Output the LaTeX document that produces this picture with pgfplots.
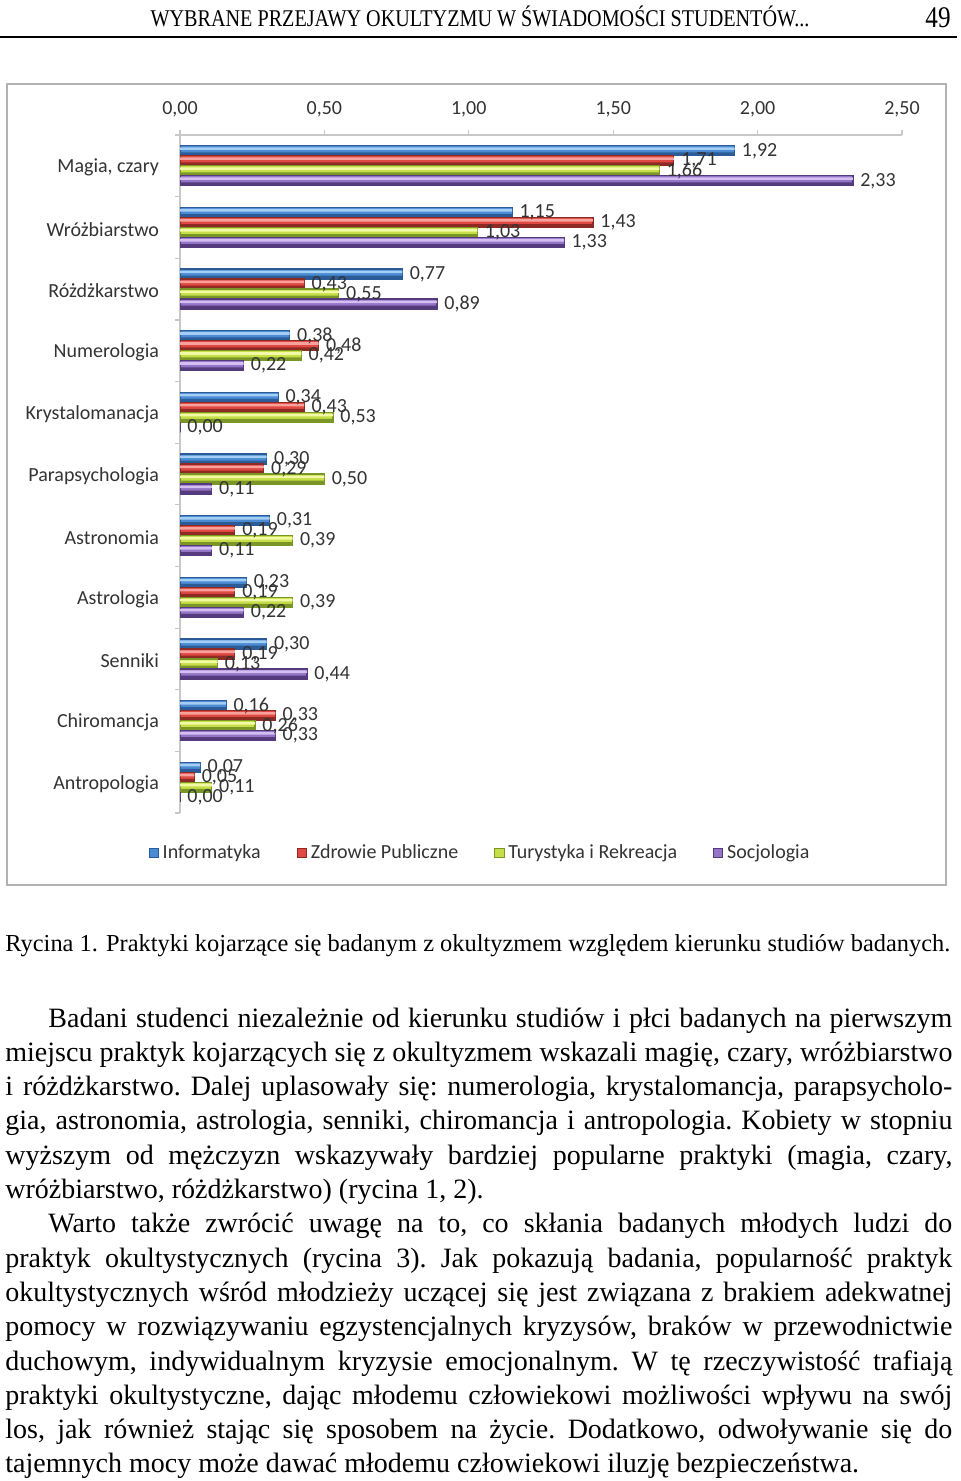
\documentclass[border=0pt]{standalone}
\usepackage{fontspec}
\usepackage{pgfplots}
\usepackage{pgfplotstable}
\pgfplotsset{compat=1.18}
\setmainfont{Liberation Serif}
\newfontfamily\chartfont{Carlito}
\newfontfamily\headfont[FakeStretch=0.84]{Liberation Serif}

\definecolor{bluL}{HTML}{A4CEF4}
\definecolor{bluM}{HTML}{4A8BD4}
\definecolor{bluD}{HTML}{2B5C98}
\definecolor{redL}{HTML}{F7A29D}
\definecolor{redM}{HTML}{E04842}
\definecolor{redD}{HTML}{8E2A24}
\definecolor{grnL}{HTML}{F2FAA8}
\definecolor{grnM}{HTML}{C6DE48}
\definecolor{grnD}{HTML}{7A9626}
\definecolor{purL}{HTML}{D4BEF2}
\definecolor{purM}{HTML}{9474C6}
\definecolor{purD}{HTML}{553A7E}
\definecolor{lbl}{HTML}{333333}
\definecolor{axgray}{HTML}{C8C8C8}

\pgfplotstableread{
cat inf zdr tur soc
0 1.92 1.71 1.66 2.33
1 1.15 1.43 1.03 1.33
2 0.77 0.43 0.55 0.89
3 0.38 0.48 0.42 0.22
4 0.34 0.43 0.53 0.00
5 0.30 0.29 0.50 0.11
6 0.31 0.19 0.39 0.11
7 0.23 0.19 0.39 0.22
8 0.30 0.19 0.13 0.44
9 0.16 0.33 0.26 0.33
10 0.07 0.05 0.11 0.00
}\data

\newcommand\cf{\chartfont\fontsize{10}{12}\selectfont}
\newcommand\bs{\fontsize{14}{17}\selectfont\frenchspacing}
\newcommand\bl[4]{\node[anchor=base west, inner sep=0pt] at (#1,#2) {\bs\makebox[#3][s]{#4}};}
\newcommand\bn[3]{\node[anchor=base west, inner sep=0pt] at (#1,#2) {\bs #3};}

% one series: column, shift, colour prefix
\newcommand\series[3]{%
  \addplot[xbar, bar shift=#2, bar width=5pt, fill=#3M, draw=#3D, line width=0.6pt] table[x=#1, y=cat] {\data};
  \addplot[xbar, forget plot, bar shift={#2-1.6pt}, bar width=1.6pt, fill=#3D, draw=none] table[x=#1, y=cat] {\data};
  \addplot[xbar, forget plot, bar shift={#2+1.1pt}, bar width=1.3pt, fill=#3L, draw=none] table[x=#1, y=cat] {\data};
}
\newcommand\labels[2]{%
  \addplot[xbar, forget plot, bar shift=#2, draw=none, fill=none, nodes near coords,
    every node near coord/.append style={yshift=#2}] table[x=#1, y=cat] {\data};
}

\begin{document}
\begin{tikzpicture}[x=0.5pt,y=0.5pt]
\path[use as bounding box] (0,0) rectangle (960,-1481);

% header
\node[anchor=base, inner sep=0pt] at (480,-27) {\headfont\fontsize{12}{14}\selectfont WYBRANE PRZEJAWY OKULTYZMU W ŚWIADOMOŚCI STUDENTÓW...};
\node[anchor=base east, inner sep=0pt] at (951,-28) {\headfont\fontsize{15}{16}\selectfont 49};
\draw[line width=1.1pt] (0,-37) -- (957,-37);

% chart frame
\draw[draw=gray!60, line width=0.8pt] (7,-84) rectangle (946,-885);

\begin{axis}[
  at={(90pt,-67.5pt)}, anchor=north west,
  scale only axis, width=361pt, height=339pt,
  xmin=0, xmax=2.5, ymin=-0.5, ymax=10.5, y dir=reverse,
  axis x line*=top, axis y line*=left,
  axis line style={draw=axgray, line width=0.9pt, -},
  xtick={0,0.5,1,1.5,2,2.5},
  tick align=outside, major tick length=2.5pt,
  tick style={draw=axgray, line width=0.6pt},
  xticklabel style={font=\cf, text=lbl, yshift=3pt},
  ytick={-0.5,0.5,...,10.5}, yticklabels={},
  extra y ticks={0,1,2,3,4,5,6,7,8,9,10},
  extra y tick labels={{Magia, czary},Wróżbiarstwo,Różdżkarstwo,Numerologia,Krystalomanacja,Parapsychologia,Astronomia,Astrologia,Senniki,Chiromancja,Antropologia},
  extra y tick style={tick style={draw=none}, yticklabel style={font=\cf, text=lbl, anchor=east, xshift=-4.5pt, yshift=-1pt}},
  /pgf/number format/.cd, fixed, fixed zerofill, precision=2, use comma, assume math mode=true, /pgfplots/.cd,
  point meta=x,
  every node near coord/.append style={anchor=west, font=\cf, text=lbl, inner sep=2pt, xshift=1.5pt},
  legend style={at={(0.417,-0.059)}, anchor=center, draw=none, fill=none, font=\cf, text=lbl,
    legend columns=4, /tikz/every even column/.append style={column sep=16pt}},
  legend image code/.code={\draw[#1, line width=0.4pt] (0pt,-2.3pt) rectangle (4.6pt,2.3pt);},
]
\series{inf}{7.5pt}{blu}
\series{zdr}{2.5pt}{red}
\series{tur}{-2.5pt}{grn}
\series{soc}{-7.5pt}{pur}
\labels{inf}{7.5pt}
\labels{zdr}{2.5pt}
\labels{tur}{-2.5pt}
\labels{soc}{-7.5pt}
\legend{Informatyka, Zdrowie Publiczne, Turystyka i Rekreacja, Socjologia}
\end{axis}

% caption
\node[anchor=base west, inner sep=0pt] at (5,-951) {\fontsize{12.2}{14}\selectfont\makebox[472.5pt][s]{Rycina 1. Praktyki kojarzące się badanym z okultyzmem względem kierunku studiów badanych.}};

% body
\bl{48}{-1027}{452pt}{Badani studenci niezależnie od kierunku studiów i płci badanych na pierwszym}
\bl{5}{-1061.3}{473.5pt}{miejscu praktyk kojarzących się z okultyzmem wskazali magię, czary, wróżbiarstwo}
\bl{5}{-1095.6}{473.5pt}{i różdżkarstwo. Dalej uplasowały się: numerologia, krystalomancja, parapsycholo-}
\bl{5}{-1129.9}{473.5pt}{gia, astronomia, astrologia, senniki, chiromancja i antropologia. Kobiety w stopniu}
\bl{5}{-1164.2}{473.5pt}{wyższym od mężczyzn wskazywały bardziej popularne praktyki (magia, czary,}
\bn{5}{-1198.5}{wróżbiarstwo, różdżkarstwo) (rycina 1, 2).}
\bl{48}{-1232.8}{452pt}{Warto także zwrócić uwagę na to, co skłania badanych młodych ludzi do}
\bl{5}{-1267.1}{473.5pt}{praktyk okultystycznych (rycina 3). Jak pokazują badania, popularność praktyk}
\bl{5}{-1301.4}{473.5pt}{okultystycznych wśród młodzieży uczącej się jest związana z brakiem adekwatnej}
\bl{5}{-1335.7}{473.5pt}{pomocy w rozwiązywaniu egzystencjalnych kryzysów, braków w przewodnictwie}
\bl{5}{-1370}{473.5pt}{duchowym, indywidualnym kryzysie emocjonalnym. W tę rzeczywistość trafiają}
\bl{5}{-1404.3}{473.5pt}{praktyki okultystyczne, dając młodemu człowiekowi możliwości wpływu na swój}
\bl{5}{-1438.6}{473.5pt}{los, jak również stając się sposobem na życie. Dodatkowo, odwoływanie się do}
\bn{5}{-1472.9}{tajemnych mocy może dawać młodemu człowiekowi iluzję bezpieczeństwa.}
\end{tikzpicture}
\end{document}
